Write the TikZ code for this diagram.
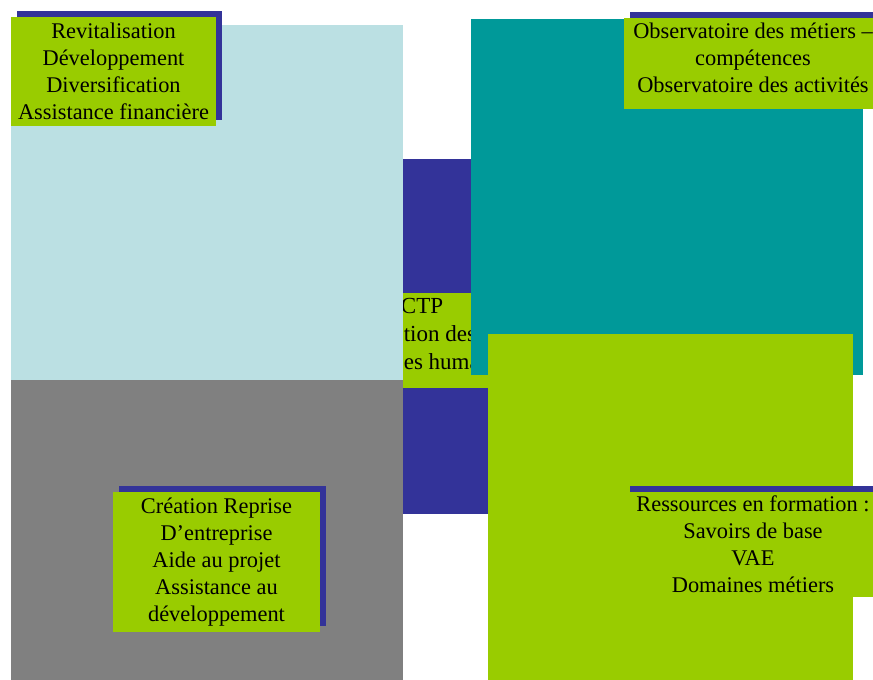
\documentclass[tikz,border=0pt]{standalone}
\usepackage{fontspec}
\setmainfont{Liberation Serif}
\usetikzlibrary{shadows}
\definecolor{paleblue}{HTML}{BBE0E3}
\definecolor{tealc}{HTML}{009999}
\definecolor{greyc}{HTML}{808080}
\definecolor{limec}{HTML}{99CC00}
\definecolor{navyc}{HTML}{333399}
\tikzset{
  panel/.style={anchor=north west, inner sep=0pt, outer sep=0pt},
  tag/.style={fill=limec, inner sep=0pt, outer sep=0pt, align=center,
    font=\fontsize{22.4}{27}\selectfont,
    general shadow={fill=navyc, shadow xshift=6pt, shadow yshift=6pt}},
  tagtext/.style={inner sep=0pt, align=center, font=\fontsize{22.4}{27}\selectfont},
}
\begin{document}
\begin{tikzpicture}[x=1pt, y=-1pt]
\useasboundingbox (0,0) rectangle (873,680);
\clip (0,0) rectangle (873,680);

% central block with its caption
\node[panel, fill=navyc, minimum width=230pt, minimum height=355pt] (core) at (330,159) {};
\node[tag, minimum width=210pt, minimum height=95pt] (ctp) at (421,340.5) {};
\node[tagtext, font=\fontsize{23}{28}\selectfont] (ctptext) at (422,334)
  {CTP\\Gestion des\\ressources humaines};

% four quadrants
\node[panel, fill=paleblue, minimum width=392pt, minimum height=355pt] (nw) at (11,25) {};
\node[panel, fill=greyc, minimum width=392pt, minimum height=300pt] (sw) at (11,380) {};
\node[panel, fill=tealc, minimum width=392pt, minimum height=356pt] (ne) at (471,19) {};
\node[panel, fill=limec, minimum width=365pt, minimum height=346pt] (se) at (488,334) {};

% quadrant captions
\node[tag, minimum width=205pt, minimum height=109pt] (tnw) at (113.5,71.5)
  {Revitalisation\\Développement\\Diversification\\Assistance financière};
\node[tag, minimum width=258pt, minimum height=91pt] (tne) at (753,63.5) {};
\node[tagtext] (tnetext) at (753,58)
  {Observatoire des métiers –\\compétences\\Observatoire des activités};
\node[tag, minimum width=207pt, minimum height=140pt] (tsw) at (216.5,562)
  {Création Reprise\\D’entreprise\\Aide au projet\\Assistance au\\développement};
\node[tag, minimum width=258pt, minimum height=105pt] (tse) at (753,544.5)
  {Ressources en formation :\\Savoirs de base\\VAE\\Domaines métiers};
\end{tikzpicture}
\end{document}
